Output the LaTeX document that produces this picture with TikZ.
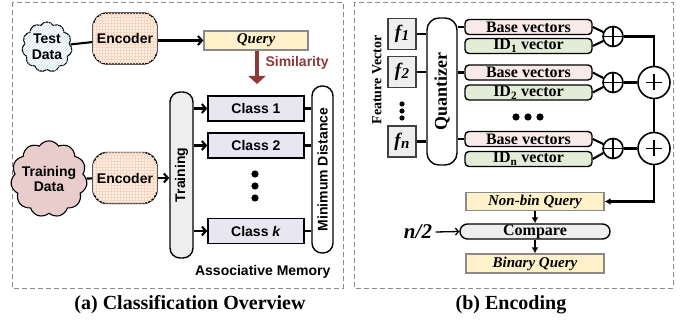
\documentclass[tikz,border=0pt]{standalone}
\usepackage{fontspec}
\setmainfont{Liberation Serif}
\setsansfont{Liberation Sans}
\usetikzlibrary{arrows.meta,shapes.symbols,patterns}
\definecolor{peach}{HTML}{FDF0E6}
\definecolor{peachgrid}{HTML}{F7D5BE}
\definecolor{pinkc}{HTML}{E9CDCD}
\definecolor{qyellow}{HTML}{FFF1C9}
\definecolor{classc}{HTML}{E8E6F0}
\definecolor{basec}{HTML}{F9EAEA}
\definecolor{idc}{HTML}{E2ECD7}
\definecolor{simred}{HTML}{8E3A3A}
\definecolor{lgray}{HTML}{EEEEEE}
\definecolor{dgray}{HTML}{8A8A8A}
\definecolor{hatchc}{HTML}{C6E0EA}
\begin{document}
\begin{tikzpicture}[x=1pt,y=-1pt,
  panel/.style={draw=dgray, line width=0.9pt, dash pattern=on 5pt off 3pt},
  sansb/.style={font=\sffamily\bfseries\fontsize{14}{15.5}\selectfont},
  serb/.style={font=\bfseries\fontsize{16}{17}\selectfont},
  conn/.style={line width=2.1pt},
  barb/.style={conn,-{Straight Barb[length=4pt,width=9pt]}},
  encbox/.style={draw, line width=1.4pt, rounded corners=14pt, fill=peach,
    postaction={pattern=grid, pattern color=peachgrid},
    minimum width=64pt, minimum height=51pt, inner sep=0pt, sansb, align=center},
  cloudbox/.style={cloud, cloud puffs=11, cloud puff arc=115, aspect=1, draw,
    line width=1.1pt, inner sep=-3pt, sansb, align=center},
  querybox/.style={draw=dgray, line width=1.3pt, fill=qyellow, inner sep=0pt,
    font=\bfseries\itshape\fontsize{15}{16}\selectfont},
  classbox/.style={draw, line width=1.5pt, fill=classc, minimum width=96pt,
    minimum height=25pt, inner sep=0pt, sansb},
  tallbox/.style={draw, line width=1.4pt, rounded corners=10pt, inner sep=0pt, sansb},
  fbox/.style={draw=black!75, line width=1.2pt, fill=lgray, minimum width=28pt,
    minimum height=31pt, inner sep=0pt},
  vecbox/.style={draw, line width=1.4pt, rounded corners=4pt, minimum width=127pt,
    minimum height=15pt, inner sep=0pt, serb},
  splus/.style={circle, draw, line width=1.6pt, minimum size=20pt, inner sep=0pt,
    path picture={\draw[line width=1.6pt] (path picture bounding box.north) -- (path picture bounding box.south)
      (path picture bounding box.west) -- (path picture bounding box.east);}},
  bplus/.style={circle, draw, line width=1.6pt, fill=white, minimum size=32pt, inner sep=0pt,
    path picture={\draw[line width=1.6pt] ([yshift=8pt]path picture bounding box.center) -- ([yshift=-8pt]path picture bounding box.center)
      ([xshift=-8pt]path picture bounding box.center) -- ([xshift=8pt]path picture bounding box.center);}},
  tri/.style={conn,-{Latex[length=6pt,width=7pt]}},
  caption/.style={font=\bfseries\fontsize{20}{22}\selectfont}
]
\useasboundingbox (0,0) rectangle (693,320);

% ---------- panel (a) ----------
\draw[panel] (12,2) rectangle (343,288);
\node[cloudbox, fill=white, postaction={pattern=north east lines, pattern color=hatchc},
  minimum width=50pt, minimum height=50pt] (tc) at (47,47) {Test\\Data};
\node[encbox] (enc1) at (125,38.5) {Encoder};
\node[querybox, minimum width=104pt, minimum height=19pt] (query) at (256,40.5) {Query};
\draw[conn] (tc) -- (enc1);
\draw[barb] (enc1.east |- query.west) -- (query.west);
\coordinate (simend) at (257,84);
\draw[simred, line width=3.2pt, -{Triangle[length=8pt,width=17pt]}] (query.south -| simend) -- (simend);
\node[font=\sffamily\bfseries\fontsize{14}{15}\selectfont, text=simred, anchor=west] (sim) at (262,63) {Similarity};

\node[cloudbox, fill=pinkc, minimum width=66pt, minimum height=62pt] (tdc) at (49,179) {Training\\Data};
\node[encbox] (enc2) at (125,178) {Encoder};
\node[tallbox, fill=lgray, minimum width=23pt, minimum height=166pt] (train) at (181.5,175) {\rotatebox{90}{Training}};
\draw[conn] (tdc) -- (enc2);
\draw[barb] (enc2.east) -- (enc2.east -| train.west);

\node[classbox] (c1) at (256,108.5) {Class 1};
\node[classbox] (c2) at (256,145.5) {Class 2};
\node[classbox] (ck) at (256,231) {Class \textit{k}};
\node[tallbox, fill=white, minimum width=21pt, minimum height=167pt] (mind) at (322.5,169.5) {\rotatebox{90}{Minimum Distance}};
\foreach \c in {c1,c2,ck}{
  \draw[barb] (\c.west -| train.east) -- (\c.west);
  \draw[conn] (\c.east) -- (\c.east -| mind.west);
}
\foreach \yy in {174,186,198} \fill (255,\yy) circle (3.6pt);
\node[sansb, anchor=east] (am) at (334,272) {Associative Memory};
\node[caption] (capa) at (190,305) {(a) Classification Overview};

% ---------- panel (b) ----------
\draw[panel] (354,2) rectangle (673,288);
\node[font=\bfseries\fontsize{14}{15}\selectfont] (fv) at (377,80) {\rotatebox{90}{Feature Vector}};
\newcommand{\fsym}[1]{{\fontsize{19}{20}\selectfont\bfseries\itshape f\kern0.5pt\raisebox{-2pt}{\fontsize{15}{16}\selectfont #1}}}
\node[fbox] (f1) at (402,34) {\fsym{1}};
\node[fbox] (f2) at (402,72) {\fsym{2}};
\node[fbox] (fn) at (402,141.5) {\fsym{n}};
\foreach \yy in {104,111,118} \fill (402,\yy) circle (2.6pt);
\node[tallbox, fill=white, rounded corners=12pt, minimum width=30pt, minimum height=147pt,
  font=\bfseries\fontsize{18}{19}\selectfont] (quant) at (442,91.5) {\rotatebox{90}{Quantizer}};
\foreach \f in {f1,f2,fn} \draw[conn] (\f.east) -- (\f.east -| quant.west);

\node[vecbox, fill=basec] (b1) at (528.5,27) {Base vectors};
\node[vecbox, fill=idc] (i1) at (528.5,46) {ID\textsubscript{1} vector};
\node[vecbox, fill=basec] (b2) at (528.5,72.5) {Base vectors};
\node[vecbox, fill=idc] (i2) at (528.5,92.5) {ID\textsubscript{2} vector};
\node[vecbox, fill=basec] (bn) at (528.5,139) {Base vectors};
\node[vecbox, fill=idc] (in) at (528.5,159) {ID\textsubscript{n} vector};
\foreach \b in {b1,b2,bn} \draw[conn] (\b.west -| quant.east) -- (\b.west);
\foreach \xx in {516,528,540} \fill (\xx,117) circle (3.6pt);

\node[splus] (s1) at (613,36.5) {};
\node[splus] (s2) at (613,82.5) {};
\node[splus] (sn) at (613,148.5) {};
\node[bplus] (p2) at (654,82.5) {};
\node[bplus] (pn) at (654,148.5) {};
\draw[conn] (b1.east) -- (s1.155);
\draw[conn] (i1.east) -- (s1.205);
\draw[conn] (b2.east) -- (s2.155);
\draw[conn] (i2.east) -- (s2.205);
\draw[conn] (bn.east) -- (sn.155);
\draw[conn] (in.east) -- (sn.205);
\draw[conn] (s1.east) -| (p2.north);
\draw[conn] (s2.east) -- (p2.west);
\draw[conn] (sn.east) -- (pn.west);
\draw[conn] (p2.south) -- (pn.north);

\node[querybox, minimum width=138pt, minimum height=18pt] (nbq) at (535,201.5) {Non-bin Query};
\node[draw, line width=1.4pt, fill=lgray, rounded corners=7.5pt, minimum width=150pt,
  minimum height=15pt, inner sep=0pt, serb] (cmp) at (535,231.5) {Compare};
\node[querybox, minimum width=138pt, minimum height=19pt] (bq) at (535,263.5) {Binary Query};
\node[font=\bfseries\itshape\fontsize{21}{22}\selectfont] (n2) at (418,232) {n/2};
\draw[tri] (pn.south) |- (nbq.east);
\draw[tri] (nbq.south) -- (cmp.north);
\draw[tri] (cmp.south) -- (bq.north);
\draw[line width=1.3pt, -{Straight Barb[length=3pt,width=7pt]}] (n2.east) -- (cmp.west);
\node[caption] (capb) at (511,305) {(b) Encoding};
\end{tikzpicture}
\end{document}
